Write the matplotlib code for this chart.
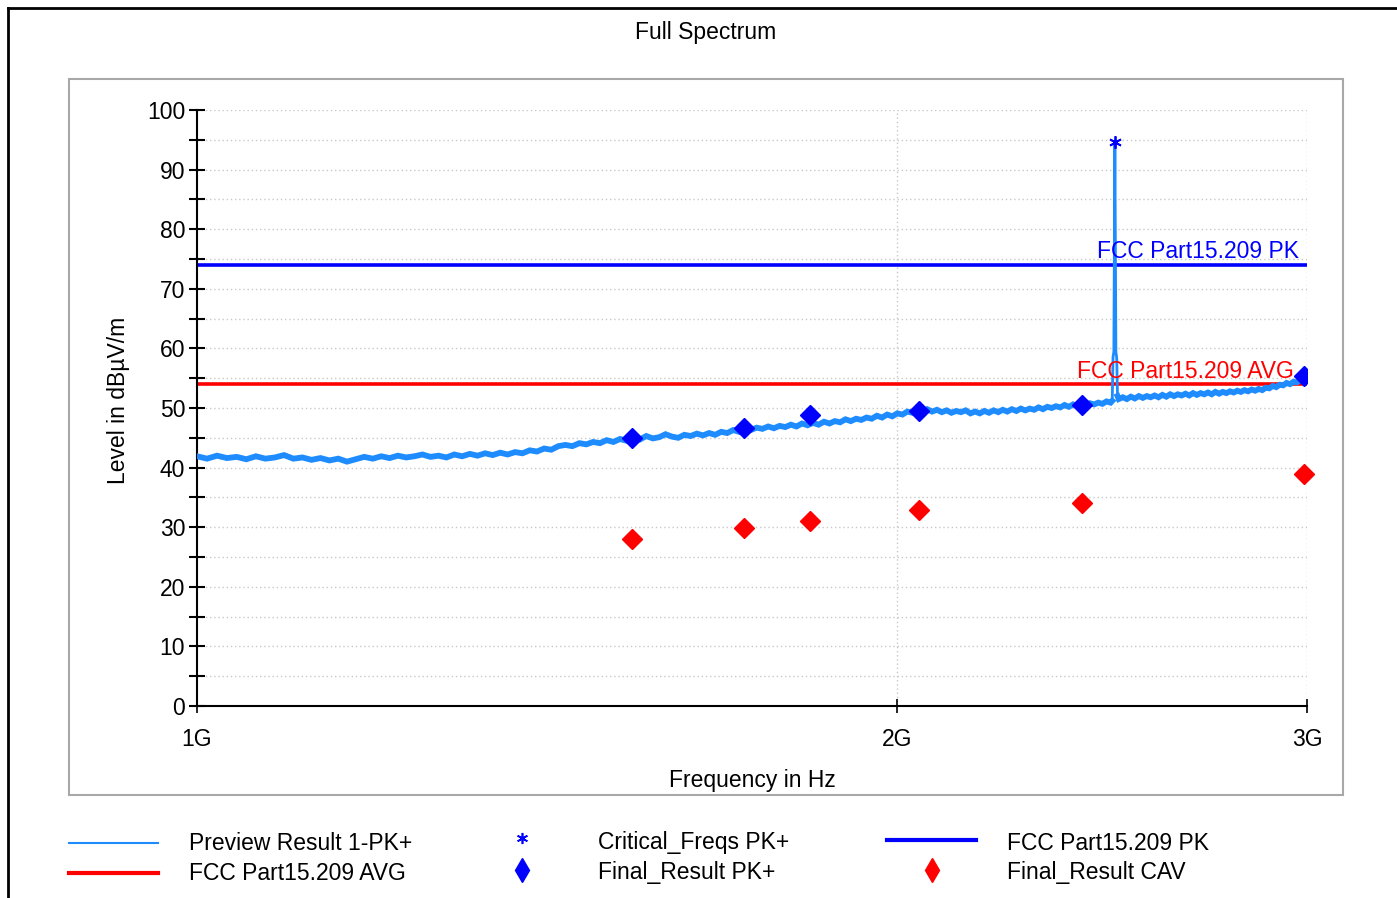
import matplotlib
matplotlib.use("Agg")
import matplotlib.pyplot as plt
import numpy as np
from matplotlib.lines import Line2D
from matplotlib.patches import Rectangle
from matplotlib.ticker import FixedLocator, NullLocator, FixedFormatter

plt.rcParams['font.family'] = ['Liberation Sans', 'DejaVu Sans']

# ---------------- data ----------------
# Preview Result 1-PK+ trace (frequency in GHz, level in dBuV/m)
trace_f_ghz = [
    1.00, 1.01, 1.02, 1.03, 1.04, 1.05, 1.06, 1.07, 1.08, 1.09,
    1.10, 1.11, 1.12, 1.13, 1.14, 1.15, 1.16, 1.17, 1.18, 1.19,
    1.20, 1.21, 1.22, 1.23, 1.24, 1.25, 1.26, 1.27, 1.28, 1.29,
    1.30, 1.31, 1.32, 1.33, 1.34, 1.35, 1.36, 1.37, 1.38, 1.39,
    1.40, 1.41, 1.42, 1.43, 1.44, 1.45, 1.46, 1.47, 1.48, 1.49,
    1.50, 1.51, 1.52, 1.53, 1.54, 1.55, 1.56, 1.57, 1.58, 1.59,
    1.60, 1.61, 1.62, 1.63, 1.64, 1.65, 1.66, 1.67, 1.68, 1.69,
    1.70, 1.71, 1.72, 1.73, 1.74, 1.75, 1.76, 1.77, 1.78, 1.79,
    1.80, 1.81, 1.82, 1.83, 1.84, 1.85, 1.86, 1.87, 1.88, 1.89,
    1.90, 1.91, 1.92, 1.93, 1.94, 1.95, 1.96, 1.97, 1.98, 1.99,
    2.00, 2.01, 2.02, 2.03, 2.04, 2.05, 2.06, 2.07, 2.08, 2.09,
    2.10, 2.11, 2.12, 2.13, 2.14, 2.15, 2.16, 2.17, 2.18, 2.19,
    2.20, 2.21, 2.22, 2.23, 2.24, 2.25, 2.26, 2.27, 2.28, 2.29,
    2.30, 2.31, 2.32, 2.33, 2.34, 2.35, 2.36, 2.37, 2.38, 2.39,
    2.40, 2.41, 2.42, 2.43, 2.44, 2.45, 2.46, 2.47,
    2.474, 2.476, 2.478, 2.4805, 2.483, 2.485, 2.487,
    2.49, 2.50, 2.51, 2.52, 2.53, 2.54, 2.55, 2.56, 2.57, 2.58, 2.59,
    2.60, 2.61, 2.62, 2.63, 2.64, 2.65, 2.66, 2.67, 2.68, 2.69,
    2.70, 2.71, 2.72, 2.73, 2.74, 2.75, 2.76, 2.77, 2.78, 2.79,
    2.80, 2.81, 2.82, 2.83, 2.84, 2.85, 2.86, 2.87, 2.88, 2.89,
    2.90, 2.91, 2.92, 2.93, 2.94, 2.95, 2.96, 2.97, 2.98, 2.99,
    3.00,
]
trace_level = [
    41.9, 41.5, 42.0, 41.6, 41.8, 41.4, 41.9, 41.5, 41.7, 42.1,
    41.5, 41.7, 41.3, 41.6, 41.2, 41.5, 41.0, 41.4, 41.8, 41.5,
    41.9, 41.6, 42.0, 41.7, 41.9, 42.2, 41.8, 42.0, 41.7, 42.2,
    41.9, 42.3, 42.0, 42.4, 42.1, 42.5, 42.2, 42.6, 42.4, 42.9,
    42.7, 43.2, 43.0, 43.6, 43.8, 43.6, 44.1, 43.9, 44.3, 44.1,
    44.6, 44.3, 44.8, 44.5, 44.9, 44.7, 45.3, 44.9, 45.1, 45.6,
    45.2, 45.0, 45.5, 45.3, 45.7, 45.4, 45.8, 45.5, 46.0, 45.8,
    46.3, 46.0, 46.6, 46.3, 46.7, 46.5, 46.9, 46.6, 47.0, 46.8,
    47.2, 46.9, 47.4, 47.1, 47.5, 47.2, 47.7, 47.4, 47.8, 47.6,
    48.1, 47.8, 48.2, 48.0, 48.4, 48.2, 48.7, 48.4, 48.9, 48.6,
    49.1, 48.9, 49.4, 49.2, 49.6, 49.3, 49.8, 49.4, 49.7, 49.3,
    49.6, 49.2, 49.5, 49.3, 49.6, 49.1, 49.4, 49.1, 49.5, 49.2,
    49.6, 49.3, 49.7, 49.4, 49.8, 49.5, 49.9, 49.6, 49.9, 49.7,
    50.1, 49.8, 50.2, 50.0, 50.3, 50.1, 50.5, 50.2, 50.6, 50.3,
    50.7, 50.4, 50.8, 50.6, 50.9, 50.7, 51.1, 50.9,
    51.2, 58.6, 59.4, 94.6, 59.4, 58.4, 52.0,
    51.5, 51.8, 51.5, 51.9, 51.6, 52.0, 51.7, 52.0, 51.8, 52.1, 51.8,
    52.2, 51.9, 52.3, 52.0, 52.3, 52.1, 52.4, 52.1, 52.5, 52.2,
    52.5, 52.3, 52.6, 52.3, 52.7, 52.4, 52.7, 52.5, 52.8, 52.6,
    52.9, 52.7, 53.0, 52.8, 53.1, 52.9, 53.2, 53.0, 53.4, 53.3,
    53.7, 53.5, 53.9, 53.8, 54.2, 54.0, 54.4, 54.3, 54.7, 54.5,
    54.8,
]

# Critical_Freqs PK+
critical_f_ghz = [2.4805]
critical_level = [94.6]

# Final_Result PK+ and CAV
final_f_ghz = [1.538, 1.718, 1.834, 2.044, 2.401, 2.991]
final_pk = [45.0, 46.7, 48.8, 49.5, 50.5, 55.3]
final_cav = [28.0, 29.8, 31.0, 32.9, 34.1, 39.0]

# Limits
limit_pk = 74.0
limit_avg = 54.0
limit_pk_label = "FCC Part15.209 PK"
limit_avg_label = "FCC Part15.209 AVG"

x_ticks_ghz = [1, 2, 3]
x_tick_labels = ["1G", "2G", "3G"]
y_major = [0, 10, 20, 30, 40, 50, 60, 70, 80, 90, 100]
y_minor = [5, 15, 25, 35, 45, 55, 65, 75, 85, 95]

legend_labels = ["Preview Result 1-PK+", "Critical_Freqs PK+", "FCC Part15.209 PK",
                 "FCC Part15.209 AVG", "Final_Result PK+", "Final_Result CAV"]

# ---------------- style ----------------
W, H = 1397, 898
C_TRACE = '#1E8CFF'
C_BLUE = '#0000FF'
C_RED = '#FF0000'
FS = 16.5

def fx(px):
    return px / W

def fy(py):
    return 1 - py / H

fig = plt.figure(figsize=(W / 100, H / 100), dpi=100)
fig.patch.set_facecolor('white')

# outer frame (top & left)
fig.add_artist(Line2D([fx(8), fx(W)], [fy(8), fy(8)], color='black', lw=2))
fig.add_artist(Line2D([fx(8), fx(8)], [fy(8), fy(H)], color='black', lw=2))

# inner panel
fig.add_artist(Rectangle((fx(69), fy(795)), fx(1343) - fx(69), fy(79) - fy(795),
                         transform=fig.transFigure, facecolor='white',
                         edgecolor='#A8A8A8', lw=1.5, zorder=0))

fig.text(fx(706), fy(33), "Full Spectrum", ha='center', va='center', fontsize=FS)

ax = fig.add_axes([fx(197), fy(706), fx(1307) - fx(197), fy(110) - fy(706)])
ax.set_facecolor('none')
ax.set_xscale('log')
ax.set_xlim(1e9, 3e9)
ax.set_ylim(0, 100)

for s in ['top', 'right']:
    ax.spines[s].set_visible(False)
for s in ['left', 'bottom']:
    ax.spines[s].set_linewidth(1.5)
    ax.spines[s].set_color('black')

ax.xaxis.set_major_locator(FixedLocator([v * 1e9 for v in x_ticks_ghz]))
ax.xaxis.set_major_formatter(FixedFormatter(x_tick_labels))
ax.xaxis.set_minor_locator(NullLocator())
ax.yaxis.set_major_locator(FixedLocator(y_major))
ax.yaxis.set_minor_locator(FixedLocator(y_minor))
ax.tick_params(axis='x', which='major', direction='inout', length=10, width=1.2,
               labelsize=FS, pad=11)
ax.tick_params(axis='y', which='both', direction='inout', length=11, width=1.5,
               labelsize=FS, pad=3)

grid_kw = dict(color='#C8C8C8', lw=1.0, ls=(0, (1, 2)), zorder=0.5)
for v in y_major[1:] + y_minor:
    ax.axhline(v, **grid_kw)
for v in x_ticks_ghz[1:]:
    ax.axvline(v * 1e9, **grid_kw)

# limit lines
ax.axhline(limit_pk, color=C_BLUE, lw=2.6, zorder=2)
ax.axhline(limit_avg, color=C_RED, lw=2.6, zorder=2)

# trace: thin line for everything (incl. narrow carrier spike),
# thicker band for the noise floor
tf = np.array(trace_f_ghz) * 1e9
tl = np.array(trace_level)
ax.plot(tf, tl, color=C_TRACE, lw=2.0, zorder=3)
floor = np.ma.masked_where(tl > 56, tl)
ax.plot(tf, floor, color=C_TRACE, lw=4.2, zorder=3, solid_joinstyle='miter')

# markers
ax.plot([f * 1e9 for f in critical_f_ghz], critical_level, ls='none',
        marker=(6, 2, 0), ms=9, mew=1.3, color=C_BLUE, zorder=5)
ax.plot([f * 1e9 for f in final_f_ghz], final_pk, ls='none', marker='D', ms=10,
        color=C_BLUE, mec=C_BLUE, zorder=5)
ax.plot([f * 1e9 for f in final_f_ghz], final_cav, ls='none', marker='D', ms=10,
        color=C_RED, mec=C_RED, zorder=5, clip_on=False)

# limit labels
ax.text(2.977e9, limit_pk + 1.2, limit_pk_label, color=C_BLUE, fontsize=FS,
        ha='right', va='baseline', zorder=4)
ax.text(2.962e9, limit_avg + 1.0, limit_avg_label, color=C_RED, fontsize=FS,
        ha='right', va='baseline', zorder=4)

# axis labels
fig.text(fx(752), fy(781), "Frequency in Hz", ha='center', va='center', fontsize=FS)
fig.text(fx(119), fy(400), "Level in dBµV/m", ha='center', va='center',
         rotation=90, fontsize=FS)

# legend (drawn manually, three equal columns)
row_y = [843, 873]
# column 1
fig.add_artist(Line2D([fx(69), fx(158)], [fy(row_y[0])] * 2, color=C_TRACE, lw=1.5))
fig.text(fx(189), fy(row_y[0]), legend_labels[0], va='center', fontsize=FS)
fig.add_artist(Line2D([fx(69), fx(158)], [fy(row_y[1])] * 2, color=C_RED, lw=3))
fig.text(fx(189), fy(row_y[1]), legend_labels[3], va='center', fontsize=FS)
# column 2
fig.add_artist(Line2D([fx(522)], [fy(row_y[0] - 5)], ls='none', marker=(6, 2, 0),
                      ms=8, mew=1.2, color=C_BLUE))
fig.text(fx(598), fy(row_y[0]), legend_labels[1], va='center', fontsize=FS)
fig.add_artist(Line2D([fx(522)], [fy(row_y[1] - 3)], ls='none', marker='d',
                      ms=12, color=C_BLUE))
fig.text(fx(598), fy(row_y[1]), legend_labels[4], va='center', fontsize=FS)
# column 3
fig.add_artist(Line2D([fx(887), fx(976)], [fy(row_y[0] - 3)] * 2, color=C_BLUE, lw=3))
fig.text(fx(1007), fy(row_y[0]), legend_labels[2], va='center', fontsize=FS)
fig.add_artist(Line2D([fx(932)], [fy(row_y[1] - 3)], ls='none', marker='d',
                      ms=12, color=C_RED))
fig.text(fx(1007), fy(row_y[1]), legend_labels[5], va='center', fontsize=FS)

fig.savefig("out.png", dpi=100)
